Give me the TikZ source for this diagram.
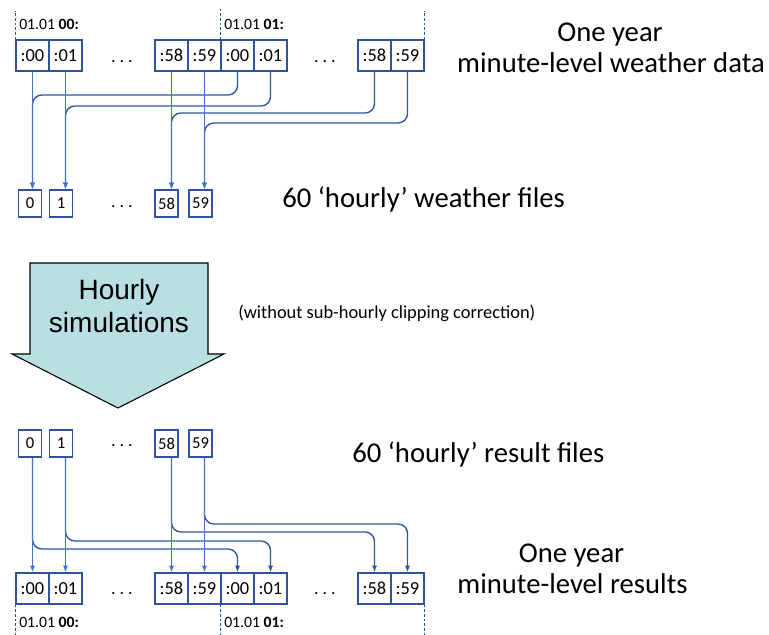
\documentclass[tikz,border=0pt]{standalone}
\usepackage{fontspec}
\setmainfont{Carlito}
\newfontfamily\arialfont{Liberation Sans}
\definecolor{LineaClara}{HTML}{4472C4}
\definecolor{LineaOscura}{HTML}{2F5597}
\definecolor{BordeCelda}{HTML}{2F5597}
\definecolor{RellenoFlecha}{HTML}{B9DFE3}
\usetikzlibrary{arrows.meta}
\newcommand{\trespuntos}{.\hspace{3pt}.\hspace{3pt}.}
\tikzset{
    celda/.style={draw=BordeCelda, line width=1.1pt, inner sep=0pt,
        minimum width=24.75pt, minimum height=23.25pt,
        font=\fontsize{13.8}{15}\selectfont},
    archivo/.style={draw=BordeCelda, line width=1.1pt, inner sep=0pt,
        minimum width=17.25pt, minimum height=20.25pt,
        font=\fontsize{12.5}{14}\selectfont},
    puntos/.style={font=\fontsize{13.5}{15}\selectfont, inner sep=0pt},
    fecha/.style={anchor=base west, inner sep=0pt, font=\fontsize{11.8}{14}\selectfont},
    titulo/.style={anchor=base, inner sep=0pt, font=\fontsize{21.5}{24}\selectfont},
    recta/.style={draw=LineaClara, line width=1pt, -{Latex[length=5pt,width=4pt]}},
    curva/.style={draw=LineaOscura, line width=1pt, rounded corners=7pt,
        -{Latex[length=5pt,width=4pt]}},
    guia/.style={draw=LineaOscura, line width=0.8pt, dash pattern=on 2pt off 1.5pt}
}

\begin{document}
\begin{tikzpicture}[x=0.75pt, y=-0.75pt]
\useasboundingbox (0,0) rectangle (769,635);

% Minutos de un año (datos de entrada)
\node[celda] (a00) at (32.5,55.5) {:00};
\node[celda] (a01) at (65.5,55.5) {:01};
\node[puntos] (pa1) at (122,62) {\trespuntos};
\node[celda] (a58) at (171.5,55.5) {:58};
\node[celda] (a59) at (204.5,55.5) {:59};
\node[celda] (b00) at (237.5,55.5) {:00};
\node[celda] (b01) at (270.5,55.5) {:01};
\node[puntos] (pa2) at (325,62) {\trespuntos};
\node[celda] (b58) at (374.5,55.5) {:58};
\node[celda] (b59) at (407.5,55.5) {:59};

\draw[guia] (a00.north west) -- (a00.north west |- 0,11);
\draw[guia] (b00.north west) -- (b00.north west |- 0,9);
\draw[guia] (b59.north east) -- (b59.north east |- 0,11);
\node[fecha] (fa0) at (19,30) {01.01 \textbf{00:}};
\node[fecha] (fa1) at (224,30) {01.01 \textbf{01:}};

\node[titulo] (ta1) at (610,42) {One year};
\node[titulo] (ta2) at (611,73) {minute-level weather data};

% Archivos horarios de clima
\node[archivo] (w0) at (30,203.5) {0};
\node[archivo] (w1) at (61,203.5) {1};
\node[puntos] (pw) at (122,207) {\trespuntos};
\node[archivo] (w58) at (166.5,203.5) {58};
\node[archivo] (w59) at (200.5,203.5) {59};
\node[titulo, anchor=base west] (tw) at (282,208) {60 ‘hourly’ weather files};

% Primero las curvas, luego las rectas encima
\draw[curva] (b00.south) -- (b00.south |- 0,95) -- (a00.south |- 0,95) -- (a00.south |- w0.north);
\draw[curva] (b01.south) -- (b01.south |- 0,106) -- (a01.south |- 0,106) -- (a01.south |- w1.north);
\draw[curva] (b58.south) -- (b58.south |- 0,113) -- (a58.south |- 0,113) -- (a58.south |- w58.north);
\draw[curva] (b59.south) -- (b59.south |- 0,123) -- (a59.south |- 0,123) -- (a59.south |- w59.north);
\draw[recta] (a00.south) -- (a00.south |- w0.north);
\draw[recta] (a01.south) -- (a01.south |- w1.north);
\draw[recta] (a58.south) -- (a58.south |- w58.north);
\draw[recta] (a59.south) -- (a59.south |- w59.north);

% Flecha de simulacion
\draw[fill=RellenoFlecha, draw=black, line width=0.8pt]
    (30,263) -- (208,263) -- (208,354) -- (224,354) -- (118,408)
    -- (12,354) -- (30,354) -- cycle;
\node[align=center, inner sep=0pt, font=\arialfont\fontsize{21}{24.75}\selectfont]
    (sim) at (119,306) {Hourly\\simulations};
\node[anchor=west, inner sep=0pt, font=\fontsize{13.8}{16}\selectfont]
    (nota) at (238,313) {(without sub-hourly clipping correction)};

% Archivos horarios de resultados
\node[archivo] (r0) at (30,443.5) {0};
\node[archivo] (r1) at (61,443.5) {1};
\node[puntos] (pr) at (122,446) {\trespuntos};
\node[archivo] (r58) at (166.5,443.5) {58};
\node[archivo] (r59) at (200.5,443.5) {59};
\node[titulo, anchor=base west] (tr) at (352,462) {60 ‘hourly’ result files};

% Minutos de un año (resultados)
\node[celda] (c00) at (32.5,588.5) {:00};
\node[celda] (c01) at (65.5,588.5) {:01};
\node[puntos] (pc1) at (122,594) {\trespuntos};
\node[celda] (c58) at (171.5,588.5) {:58};
\node[celda] (c59) at (204.5,588.5) {:59};
\node[celda] (d00) at (237.5,588.5) {:00};
\node[celda] (d01) at (270.5,588.5) {:01};
\node[puntos] (pc2) at (325,594) {\trespuntos};
\node[celda] (d58) at (374.5,588.5) {:58};
\node[celda] (d59) at (407.5,588.5) {:59};

\draw[guia] (c00.south west) -- (c00.south west |- 0,635);
\draw[guia] (d00.south west) -- (d00.south west |- 0,635);
\draw[guia] (d59.south east) -- (d59.south east |- 0,635);
\node[fecha] (fc0) at (19,627) {01.01 \textbf{00:}};
\node[fecha] (fc1) at (224,627) {01.01 \textbf{01:}};

\node[titulo] (tc1) at (571.5,562) {One year};
\node[titulo] (tc2) at (572.5,593) {minute-level results};

\draw[curva] (c00.north |- r0.south) -- (c00.north |- 0,549) -- (d00.north |- 0,549) -- (d00.north);
\draw[curva] (c01.north |- r1.south) -- (c01.north |- 0,541) -- (d01.north |- 0,541) -- (d01.north);
\draw[curva] (c58.north |- r58.south) -- (c58.north |- 0,532) -- (d58.north |- 0,532) -- (d58.north);
\draw[curva] (c59.north |- r59.south) -- (c59.north |- 0,524) -- (d59.north |- 0,524) -- (d59.north);
\draw[recta] (c00.north |- r0.south) -- (c00.north);
\draw[recta] (c01.north |- r1.south) -- (c01.north);
\draw[recta] (c58.north |- r58.south) -- (c58.north);
\draw[recta] (c59.north |- r59.south) -- (c59.north);

\end{tikzpicture}
\end{document}
